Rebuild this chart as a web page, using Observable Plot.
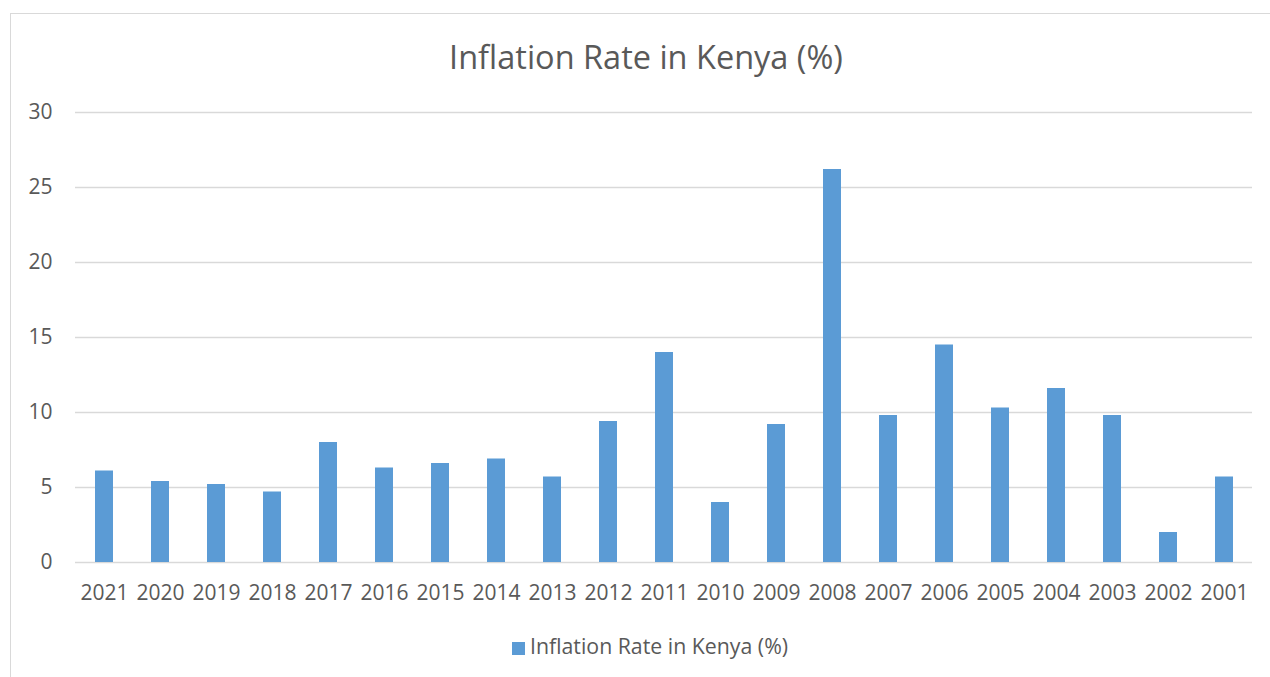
<!DOCTYPE html>
<html>
<head>
<meta charset="utf-8">
<script src="https://cdn.jsdelivr.net/npm/d3@7"></script>
<script src="https://cdn.jsdelivr.net/npm/@observablehq/plot@0.6"></script>
<style>
  html, body { margin: 0; padding: 0; background: #fff; overflow: hidden; width: 1270px; height: 677px; }
  body { position: relative; font-family: "Open Sans", sans-serif; color: #595959; }
  #frame { position: absolute; left: 10px; top: 13px; width: 1300px; height: 700px; border: 1.5px solid #D9D9D9; box-sizing: border-box; }
  #title { position: absolute; left: 0; width: 1292px; top: 35px; text-align: center; font-size: 32.5px; line-height: 44px; color: #595959; }
  #chart { position: absolute; left: 0; top: 90px; }
  #legend { position: absolute; left: 0; width: 1300px; top: 632px; text-align: center; font-size: 21.3px; line-height: 28px; color: #595959; }
  #legend .sw { display: inline-block; width: 13px; height: 13px; background: #5B9BD5; margin-right: 5px; vertical-align: -1px; }
</style>
</head>
<body>
<div id="frame"></div>
<div id="title">Inflation Rate in Kenya (%)</div>
<div id="chart"></div>
<div id="legend"><span class="sw"></span>Inflation Rate in Kenya (%)</div>
<script>
const years = ["2021","2020","2019","2018","2017","2016","2015","2014","2013","2012","2011","2010","2009","2008","2007","2006","2005","2004","2003","2002","2001"];
const inflation = [6.1, 5.4, 5.2, 4.7, 8.0, 6.3, 6.6, 6.9, 5.7, 9.4, 14.0, 4.0, 9.2, 26.2, 9.8, 14.5, 10.3, 11.6, 9.8, 2.0, 5.7];
const yTicks = [0, 5, 10, 15, 20, 25, 30];

const data = years.map((y, i) => ({year: y, value: inflation[i]}));

const chart = Plot.plot({
  width: 1270,
  height: 530,
  marginLeft: 75,
  marginRight: 18,
  marginTop: 22,
  marginBottom: 58,
  style: {fontFamily: "Open Sans, sans-serif", fontSize: "21px", color: "#595959", background: "transparent"},
  x: {domain: years, paddingInner: 0.684, paddingOuter: 0.342, align: 0.5, label: null},
  y: {domain: [0, 30], ticks: yTicks, label: null},
  marks: [
    Plot.ruleY(yTicks, {stroke: "#D9D9D9", strokeWidth: 1.5}),
    Plot.barY(data, {x: "year", y: "value", fill: "#5B9BD5"}),
    Plot.axisX({tickSize: 0, tickPadding: 23, fontSize: 21, fill: "#595959", label: null}),
    Plot.axisY({ticks: yTicks, tickSize: 0, tickPadding: 23, fontSize: 21, fill: "#595959", label: null})
  ]
});
document.getElementById("chart").appendChild(chart);
</script>
</body>
</html>
